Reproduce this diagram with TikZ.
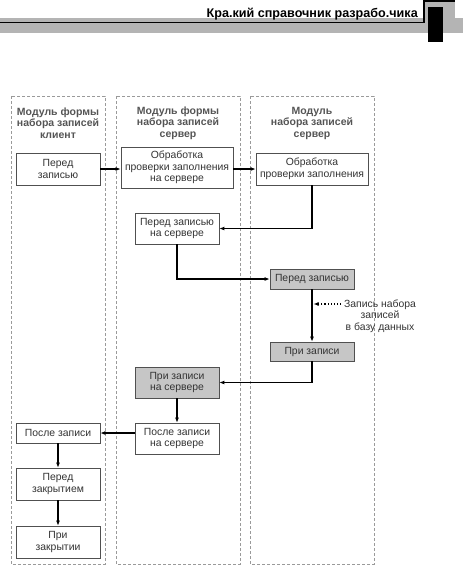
\documentclass[tikz,border=0pt]{standalone}
\usepackage{fontspec}
\setmainfont{Liberation Sans}
\usetikzlibrary{arrows.meta}
\definecolor{boxgray}{HTML}{C6C6C6}
\definecolor{bandgray}{HTML}{B4B4B4}
\definecolor{lanegray}{HTML}{9A9A9A}
\definecolor{boxline}{HTML}{505050}
\definecolor{txtgray}{HTML}{333333}
\definecolor{hdrgray}{HTML}{555555}
\tikzset{
  lane/.style={draw=lanegray, dash pattern=on 3pt off 2pt, line width=0.8pt},
  hdr/.style={font=\bfseries\fontsize{10.5}{11.5}\selectfont, text=hdrgray, align=center, inner sep=0pt},
  box/.style={draw=boxline, line width=0.7pt, fill=white, minimum width=84pt, inner sep=0pt, align=center, font=\fontsize{10.4}{11.5}\selectfont, text=txtgray},
  shaded/.style={box, fill=boxgray},
  flow/.style={-{Latex[length=5pt,width=4pt]}, line width=1.1pt},
  note/.style={dotted, line width=1.1pt, -{Latex[length=5pt,width=4pt]}},
  notetext/.style={align=center, inner sep=0pt, font=\fontsize{10.4}{11.5}\selectfont, text=txtgray}
}
\begin{document}
\begin{tikzpicture}[x=1pt,y=-1pt]
\useasboundingbox (0,0) rectangle (463,566);
% page header
\fill[bandgray] (0,18) rectangle (463,33);
\fill[bandgray] (425,0) rectangle (455,33);
\fill[black] (0,21.5) rectangle (423,23);
\fill[black] (422.5,0) rectangle (425,23);
\fill[black] (422.5,0) rectangle (455,1.5);
\fill[black] (428,7) rectangle (443,42);
\node[anchor=base east, inner sep=0pt, font=\bfseries\fontsize{12.6}{13}\selectfont] (title) at (418,17) {Кра.кий справочник разрабо.чика};
% lanes
\draw[lane] (11,96) rectangle (105,564);
\draw[lane] (116,96) rectangle (240,564);
\draw[lane] (250,96) rectangle (374,564);
\node[hdr] (h1) at (58,123) {Модуль формы\\набора записей\\клиент};
\node[hdr] (h2) at (178,123) {Модуль формы\\набора записей\\сервер};
\node[hdr] (h3) at (312,123) {Модуль\\набора записей\\сервер};
% boxes
\node[box, minimum height=32pt] (b1) at (58,169) {Перед\\записью};
\node[box, minimum width=112pt, minimum height=41pt] (b2) at (177,167.5) {Обработка\\проверки заполнения\\на сервере};
\node[box, minimum width=112pt, minimum height=32pt] (b3) at (312,169) {Обработка\\проверки заполнения};
\node[box, minimum height=31pt] (b4) at (177,228.5) {Перед записью\\на сервере};
\node[shaded, minimum height=20pt] (b5) at (312,279) {Перед записью};
\node[shaded, minimum height=19pt] (b6) at (312,351.5) {При записи};
\node[shaded, minimum height=31pt] (b7) at (177,382.5) {При записи\\на сервере};
\node[box, minimum height=31pt] (b8) at (177,438.5) {После записи\\на сервере};
\node[box, minimum height=20pt] (b9) at (58,433) {После записи};
\node[box, minimum height=32pt] (b10) at (58,484) {Перед\\закрытием};
\node[box, minimum height=32pt] (b11) at (58,542) {При\\закрытии};
% note
\node[notetext] (lbl) at (380,316) {Запись набора\\записей\\в базу данных};
\coordinate (ns) at (341,304);
\coordinate (ne) at (313.5,304);
% connectors
\draw[flow] (b1.east |- 0,169) -- (b2.west |- 0,169);
\draw[flow] (b2.east |- b3) -- (b3.west);
\draw[flow] (b3.south) |- (b4.east);
\draw[flow] (b4.south) |- (b5.west);
\draw[flow] (b5.south) -- (b6.north);
\draw[note] (ns) -- (ne);
\draw[flow] (b6.south) |- (b7.east);
\draw[flow] (b7.south) -- (b8.north);
\draw[flow] (b8.west |- b9) -- (b9.east);
\draw[flow] (b9.south) -- (b10.north);
\draw[flow] (b10.south) -- (b11.north);
\end{tikzpicture}
\end{document}
